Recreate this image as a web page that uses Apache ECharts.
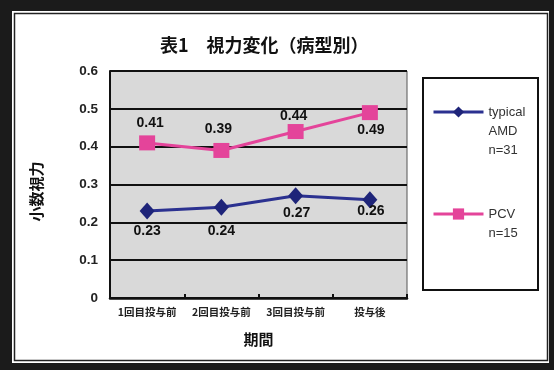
<!DOCTYPE html>
<html>
<head>
<meta charset="utf-8">
<script src="https://cdn.jsdelivr.net/npm/echarts@6/dist/echarts.min.js"></script>
<style>
html,body{margin:0;padding:0;background:#fff;}
#chart{width:554px;height:370px;}
</style>
</head>
<body>
<div id="chart"></div>
<script>
const categories = ['1回目投与前', '2回目投与前', '3回目投与前', '投与後'];
const amdValues = [0.23, 0.24, 0.27, 0.26];
const pcvValues = [0.41, 0.39, 0.44, 0.49];
const yTicks = [0, 0.1, 0.2, 0.3, 0.4, 0.5, 0.6];
const seriesNames = ['typical AMD n=31', 'PCV n=15'];
const legendTexts = ['\n\ntypical\nAMD\nn=31', '\nPCV\nn=15'];

const LATIN = '"Liberation Sans", "Noto Sans CJK JP", sans-serif';
const CJK = '"Noto Sans CJK JP", "Liberation Sans", sans-serif';

const amdOffsets = [[0, 20.5], [0, 23.5], [1, 17], [1, 11.5]];
const pcvOffsets = [[3, -20], [-3, -21], [-2, -15.5], [1, 17.5]];

function withLabels(values, offsets) {
  return values.map((v, i) => ({
    value: v,
    label: { offset: offsets[i] }
  }));
}

const chart = echarts.init(document.getElementById('chart'), null, { renderer: 'canvas' });
const option = {
  backgroundColor: '#ffffff',
  animation: false,
  title: {
    text: '表1　視力変化（病型別）',
    left: 160,
    top: 36,
    padding: 0,
    textStyle: { fontFamily: CJK, fontSize: 18, fontWeight: 'bold', color: '#111' }
  },
  graphic: [
    { type: 'rect', z: -100, silent: true, shape: { x: 0, y: 0, width: 554, height: 370 }, style: { fill: '#1b1b1b' } },
    { type: 'rect', z: -99, silent: true, shape: { x: 12, y: 11, width: 537, height: 352 }, style: { fill: '#ffffff' } },
    { type: 'rect', z: -98, silent: true, shape: { x: 14.5, y: 13.5, width: 533, height: 347 }, style: { fill: 'none', stroke: '#222', lineWidth: 1.5 } },
    { type: 'rect', z: 10, silent: true, shape: { x: 423, y: 78, width: 115, height: 212 }, style: { fill: 'none', stroke: '#111', lineWidth: 2 } }
  ],
  legend: [
    {
      data: [seriesNames[0]],
      left: 432, top: 64.5, padding: 0,
      itemWidth: 50, itemHeight: 14, itemGap: 4,
      formatter: () => legendTexts[0],
      lineStyle: { width: 3 },
      textStyle: { fontFamily: LATIN, fontSize: 13, color: '#333', lineHeight: 19 }
    },
    {
      data: [seriesNames[1]],
      left: 432, top: 185.5, padding: 0,
      itemWidth: 50, itemHeight: 14, itemGap: 4,
      formatter: () => legendTexts[1],
      lineStyle: { width: 3 },
      textStyle: { fontFamily: LATIN, fontSize: 13, color: '#333', lineHeight: 19 }
    }
  ],
  grid: {
    left: 110, right: 147, top: 71, bottom: 72,
    show: true, backgroundColor: '#d9d9d9', borderColor: '#555', borderWidth: 1
  },
  xAxis: {
    type: 'category',
    data: categories,
    boundaryGap: true,
    name: '期間',
    nameLocation: 'middle',
    nameGap: 34,
    nameTextStyle: { fontFamily: CJK, fontSize: 15, fontWeight: 'bold', color: '#111' },
    axisLine: { lineStyle: { color: '#111', width: 2.5 } },
    axisTick: { show: true, inside: true, length: 4, lineStyle: { color: '#111', width: 2 } },
    axisLabel: { fontFamily: CJK, fontSize: 10.5, fontWeight: 'bold', color: '#222', margin: 9, interval: 0 },
    splitLine: { show: false }
  },
  yAxis: {
    type: 'value',
    min: yTicks[0],
    max: yTicks[yTicks.length - 1],
    interval: 0.1,
    name: '小数視力',
    nameLocation: 'middle',
    nameGap: 66,
    nameRotate: 90,
    nameTextStyle: { fontFamily: CJK, fontSize: 15, fontWeight: 'bold', color: '#111', padding: [0, 14, 0, 0] },
    axisLine: { show: true, lineStyle: { color: '#111', width: 2 } },
    axisTick: { show: false },
    axisLabel: {
      fontFamily: LATIN, fontSize: 13.5, fontWeight: 'bold', color: '#222', margin: 12,
      formatter: v => (Math.abs(v) < 1e-9 ? '0' : v.toFixed(1))
    },
    splitLine: { show: true, lineStyle: { color: '#111', width: 2 } }
  },
  series: [
    {
      name: seriesNames[0],
      type: 'line',
      data: withLabels(amdValues, amdOffsets),
      symbol: 'diamond',
      symbolSize: [15, 17],
      color: '#1e2479',
      lineStyle: { color: '#2b3190', width: 3 },
      itemStyle: { color: '#1e2479' },
      label: {
        show: true, position: 'inside',
        fontFamily: LATIN, fontSize: 14, fontWeight: 'bold', color: '#111',
        formatter: p => p.value.toFixed(2)
      },
      z: 3
    },
    {
      name: seriesNames[1],
      type: 'line',
      data: withLabels(pcvValues, pcvOffsets),
      symbol: 'rect',
      symbolSize: [16, 15],
      color: '#e4449a',
      lineStyle: { color: '#e4449a', width: 3 },
      itemStyle: { color: '#e4449a' },
      label: {
        show: true, position: 'inside',
        fontFamily: LATIN, fontSize: 14, fontWeight: 'bold', color: '#111',
        formatter: p => p.value.toFixed(2)
      },
      z: 3
    }
  ]
};
chart.setOption(option);
</script>
</body>
</html>
